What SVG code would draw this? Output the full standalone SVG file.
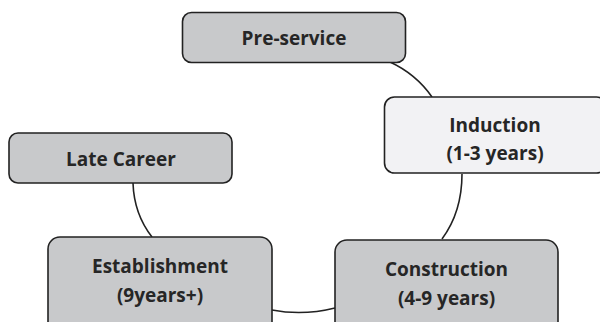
<svg xmlns="http://www.w3.org/2000/svg" width="600" height="322" viewBox="0 0 600 322">
<style>
.box{fill:#c8c9cb;stroke:#222;stroke-width:1.6}
.light{fill:#f2f2f4}
.lbl{font-family:"Open Sans","Liberation Sans",sans-serif;font-weight:bold;font-size:19px;fill:#262626;text-anchor:middle}
.conn{fill:none;stroke:#222;stroke-width:1.6}
</style>
<rect width="600" height="322" fill="#fff"/>
<g id="connectors">
<path class="conn" d="M390,62 Q416,74 432,97"/>
<path class="conn" d="M462,174 Q462,212 442,239"/>
<path class="conn" d="M335,308 Q303,316 272,310"/>
<path class="conn" d="M152,237 Q134,214 133,183"/>
</g>
<g id="pre-service">
<rect class="box" x="182.5" y="12.5" width="223" height="50" rx="9"/>
<text class="lbl" x="294" y="44.5">Pre-service</text>
</g>
<g id="induction">
<rect class="box light" x="384.5" y="97" width="222" height="76" rx="10"/>
<text class="lbl" x="495" y="131.5">Induction</text>
<text class="lbl" x="495" y="160">(1-3 years)</text>
</g>
<g id="late-career">
<rect class="box" x="9" y="133" width="223" height="50" rx="9"/>
<text class="lbl" x="121" y="165.5">Late Career</text>
</g>
<g id="establishment">
<rect class="box" x="48" y="237" width="224" height="100" rx="12"/>
<text class="lbl" x="160" y="273">Establishment</text>
<text class="lbl" x="160" y="301.5">(9years+)</text>
</g>
<g id="construction">
<rect class="box" x="335" y="240" width="223" height="100" rx="12"/>
<text class="lbl" x="446.5" y="275.5">Construction</text>
<text class="lbl" x="446.5" y="304.5">(4-9 years)</text>
</g>
</svg>
